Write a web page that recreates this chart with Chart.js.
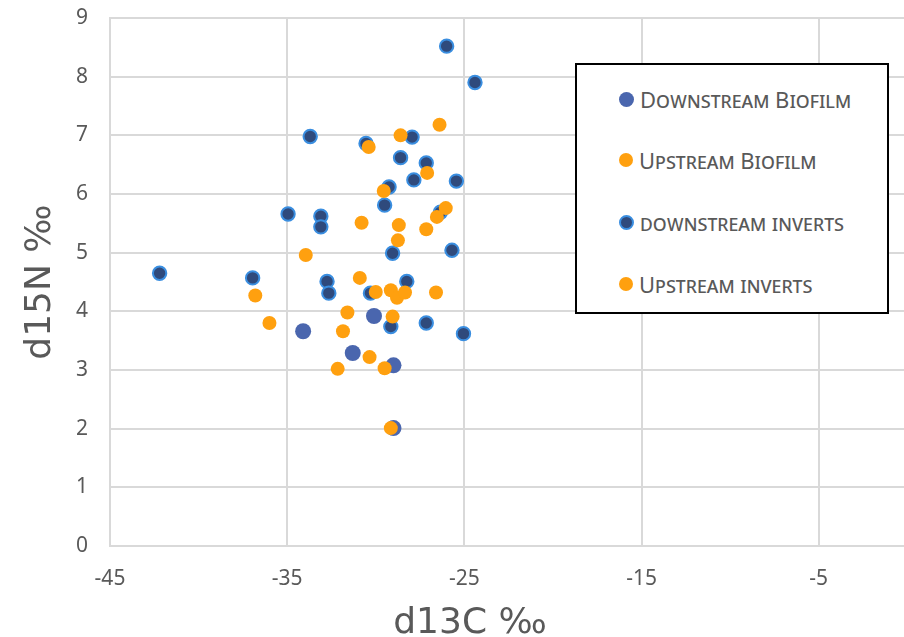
<!DOCTYPE html>
<html>
<head>
<meta charset="utf-8">
<script src="https://cdn.jsdelivr.net/npm/chart.js@4/dist/chart.umd.min.js"></script>
<style>
  body { margin: 0; overflow: hidden; background: #fff; }
  #wrap { position: relative; width: 916px; height: 637px; }
  #chart { display: block; }
  #xtitle {
    position: absolute; left: 320px; width: 300px; top: 601px; text-align: center;
    font-family: "DejaVu Sans", sans-serif; font-size: 36px; line-height: 40px; color: #595959;
  }
  #legend {
    position: absolute; left: 575px; top: 63px; width: 310px; height: 247px;
    border: 2px solid #000; background: #fff;
    font-family: "Noto Sans", sans-serif; font-variant: small-caps;
    font-size: 22px; color: #595959;
  }
  #legend .item { position: absolute; left: 42px; display: flex; align-items: center; white-space: nowrap; }
  #legend .dot { border-radius: 50%; box-sizing: border-box; margin-right: 6px; }
</style>
</head>
<body>
<div id="wrap">
  <canvas id="chart" width="916" height="637"></canvas>
  <div id="xtitle"></div>
  <div id="legend"></div>
</div>
<script>
const seriesNames = ['Downstream Biofilm', 'Upstream Biofilm', 'downstream inverts', 'Upstream inverts'];
const xTitle = 'd13C ‰';
const yTitle = 'd15N ‰';

const dsBiofilmX = [-34.1, -31.3, -30.1, -29.0, -29.0];
const dsBiofilmY = [3.66, 3.29, 3.92, 3.08, 2.01];

const usBiofilmX = [-29.5, -29.15, -30.35, -32.15, -31.85];
const usBiofilmY = [3.03, 2.01, 3.22, 3.02, 3.66];

const dsInvertsX = [-42.2, -36.95, -34.95, -33.7, -33.1, -33.1, -32.75, -32.65, -30.55, -30.3, -29.5, -29.25, -29.05,
  -29.15, -28.6, -28.25, -27.95, -27.85, -27.15, -27.15, -26.35, -26.0, -25.7, -25.45, -25.05, -24.4];
const dsInvertsY = [4.65, 4.57, 5.66, 6.98, 5.62, 5.44, 4.51, 4.31, 6.86, 4.31, 5.81, 6.12, 4.99,
  3.74, 6.62, 4.51, 6.97, 6.24, 6.53, 3.8, 5.69, 8.52, 5.04, 6.22, 3.62, 7.9];

const usInvertsX = [-36.8, -36.0, -33.95, -31.6, -30.9, -30.8, -30.4, -30.0, -29.55, -29.15, -29.05, -28.8, -28.75,
  -28.7, -28.6, -28.35, -27.15, -27.1, -26.6, -26.55, -26.4, -26.05];
const usInvertsY = [4.27, 3.8, 4.96, 3.98, 4.57, 5.51, 6.8, 4.33, 6.05, 4.36, 3.91, 4.23, 5.21,
  5.47, 7.0, 4.32, 5.4, 6.36, 4.32, 5.61, 7.18, 5.76];

const xTicks = [-45, -35, -25, -15, -5];
const yTicks = [0, 1, 2, 3, 4, 5, 6, 7, 8, 9];

const pts = (xs, ys) => xs.map((x, i) => ({ x: x, y: ys[i] }));

const orange = '#ffa00f';
const gridColor = '#d9d9d9';
const textColor = '#595959';
const fontFamily = '"Noto Sans", sans-serif';

const ctx = document.getElementById('chart');
const chart = new Chart(ctx, {
    type: 'scatter',
    data: {
        datasets: [{
            label: seriesNames[0],
            data: pts(dsBiofilmX, dsBiofilmY),
            backgroundColor: '#4a66ae',
            borderColor: '#4a66ae',
            borderWidth: 0,
            pointRadius: 8,
            order: 4
        }, {
            label: seriesNames[1],
            data: pts(usBiofilmX, usBiofilmY),
            backgroundColor: orange,
            borderColor: orange,
            borderWidth: 0,
            pointRadius: 7,
            order: 3
        }, {
            label: seriesNames[2],
            data: pts(dsInvertsX, dsInvertsY),
            backgroundColor: '#2f4a7c',
            borderColor: '#3a8ee0',
            borderWidth: 2,
            pointRadius: 6.7,
            order: 2
        }, {
            label: seriesNames[3],
            data: pts(usInvertsX, usInvertsY),
            backgroundColor: orange,
            borderColor: orange,
            borderWidth: 0,
            pointRadius: 7,
            order: 1
        }]
    },
    options: {
        responsive: false,
        maintainAspectRatio: false,
        animation: false,
        layout: { padding: { top: 18, right: 1, left: 0, bottom: 0 } },
        scales: {
            x: {
                type: 'linear',
                min: -45,
                max: 0,
                afterBuildTicks: s => { s.ticks = xTicks.map(v => ({ value: v })); },
                afterFit: s => { s.height = 91; s.paddingLeft = 0; s.paddingRight = 0; },
                ticks: { color: textColor, font: { family: fontFamily, size: 21 }, padding: 20 },
                grid: { color: gridColor, lineWidth: 2, drawTicks: false },
                border: { color: gridColor, width: 2 }
            },
            y: {
                min: 0,
                max: 9,
                afterBuildTicks: s => { s.ticks = yTicks.map(v => ({ value: v })); },
                afterFit: s => { s.width = 110; s.paddingTop = 0; s.paddingBottom = 0; },
                ticks: { color: textColor, font: { family: fontFamily, size: 21 }, padding: 22 },
                grid: { color: gridColor, lineWidth: 2, drawTicks: false },
                border: { color: gridColor, width: 2 },
                title: { display: true, text: yTitle, color: textColor, font: { family: '"DejaVu Sans", sans-serif', size: 36 }, padding: { top: 19, bottom: 0 } }
            }
        },
        plugins: {
            legend: { display: false },
            tooltip: { enabled: false }
        }
    }
});

document.getElementById('xtitle').textContent = xTitle;

// legend box drawn from the datasets
const legendEl = document.getElementById('legend');
const rowY = [34, 95, 157, 219];
const dotSize = [15, 14, 15, 14];
chart.data.datasets.forEach((ds, i) => {
    const item = document.createElement('div');
    item.className = 'item';
    item.style.top = (rowY[i] - 16) + 'px';
    item.style.height = '32px';
    const dot = document.createElement('span');
    dot.className = 'dot';
    dot.style.width = dotSize[i] + 'px';
    dot.style.height = dotSize[i] + 'px';
    dot.style.background = ds.backgroundColor;
    if (ds.borderWidth) dot.style.border = ds.borderWidth + 'px solid ' + ds.borderColor;
    const txt = document.createElement('span');
    txt.textContent = ds.label;
    item.appendChild(dot);
    item.appendChild(txt);
    legendEl.appendChild(item);
});
</script>
</body>
</html>
